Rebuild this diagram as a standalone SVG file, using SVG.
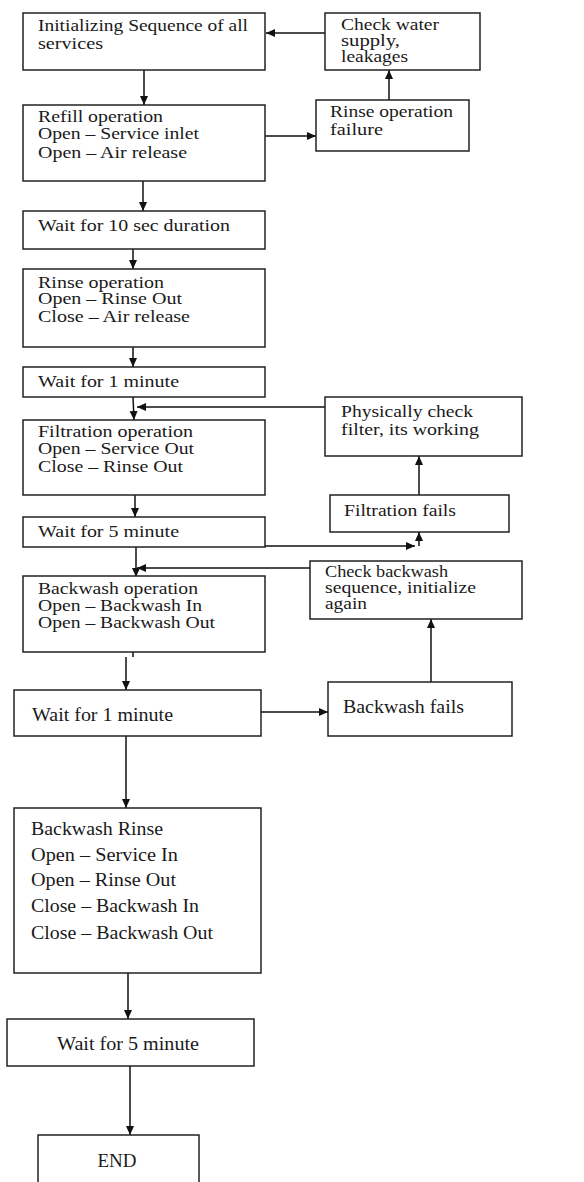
<svg xmlns="http://www.w3.org/2000/svg" width="584" height="1182" viewBox="0 0 584 1182">
<style>
.box{fill:#fff;stroke:#222;stroke-width:1.5}
.t{font-family:"Liberation Serif","Times New Roman",serif;font-size:16px;fill:#1a1a1a}
.b{font-family:"Liberation Serif","Times New Roman",serif;font-size:19px;fill:#1a1a1a}
.c{fill:none;stroke:#111;stroke-width:1.5}
</style>
<defs>
<marker id="ah" markerWidth="10" markerHeight="10" refX="9" refY="5" orient="auto" markerUnits="userSpaceOnUse">
<path d="M0,1 L9,5 L0,9 Z" fill="#111"/>
</marker>
</defs>
<rect x="0" y="0" width="584" height="1182" fill="#fff"/>

<g id="connectors">
<line class="c" x1="325" y1="33" x2="266" y2="33" marker-end="url(#ah)"/>
<line class="c" x1="144" y1="70" x2="144" y2="105" marker-end="url(#ah)"/>
<line class="c" x1="265" y1="136" x2="316" y2="136" marker-end="url(#ah)"/>
<line class="c" x1="389" y1="100" x2="389" y2="70" marker-end="url(#ah)"/>
<line class="c" x1="143" y1="181" x2="143" y2="211" marker-end="url(#ah)"/>
<line class="c" x1="133" y1="249" x2="133" y2="269" marker-end="url(#ah)"/>
<line class="c" x1="133" y1="347" x2="133" y2="367" marker-end="url(#ah)"/>
<line class="c" x1="133" y1="397" x2="134" y2="420" marker-end="url(#ah)"/>
<line class="c" x1="325" y1="407" x2="137" y2="407" marker-end="url(#ah)"/>
<line class="c" x1="419" y1="495" x2="419" y2="456" marker-end="url(#ah)"/>
<line class="c" x1="135" y1="495" x2="135" y2="517" marker-end="url(#ah)"/>
<line class="c" x1="265" y1="546" x2="415" y2="546" marker-end="url(#ah)"/>
<line class="c" x1="419" y1="546" x2="419" y2="532" marker-end="url(#ah)"/>
<line class="c" x1="136" y1="547" x2="136" y2="577" marker-end="url(#ah)"/>
<line class="c" x1="310" y1="568" x2="137" y2="568" marker-end="url(#ah)"/>
<line class="c" x1="133" y1="652" x2="133" y2="657"/>
<line class="c" x1="126" y1="657" x2="126" y2="690" marker-end="url(#ah)"/>
<line class="c" x1="261" y1="712" x2="328" y2="712" marker-end="url(#ah)"/>
<line class="c" x1="431" y1="682" x2="431" y2="619" marker-end="url(#ah)"/>
<line class="c" x1="126" y1="736" x2="126" y2="808" marker-end="url(#ah)"/>
<line class="c" x1="128" y1="973" x2="128" y2="1019" marker-end="url(#ah)"/>
<line class="c" x1="130" y1="1066" x2="130" y2="1135" marker-end="url(#ah)"/>
</g>

<g id="n-init">
<rect class="box" x="23" y="13" width="242" height="57"/>
<text class="t" x="38" y="31" textLength="210" lengthAdjust="spacingAndGlyphs">Initializing Sequence of all</text>
<text class="t" x="38" y="49" textLength="65" lengthAdjust="spacingAndGlyphs">services</text>
</g>
<g id="n-checkwater">
<rect class="box" x="325" y="13" width="155" height="57"/>
<text class="t" x="341" y="30" textLength="98" lengthAdjust="spacingAndGlyphs">Check water</text>
<text class="t" x="341" y="46" textLength="59" lengthAdjust="spacingAndGlyphs">supply,</text>
<text class="t" x="341" y="62" textLength="67" lengthAdjust="spacingAndGlyphs">leakages</text>
</g>
<g id="n-refill">
<rect class="box" x="23" y="105" width="242" height="76"/>
<text class="t" x="38" y="122" textLength="125" lengthAdjust="spacingAndGlyphs">Refill operation</text>
<text class="t" x="38" y="139" textLength="161" lengthAdjust="spacingAndGlyphs">Open – Service inlet</text>
<text class="t" x="38" y="158" textLength="149" lengthAdjust="spacingAndGlyphs">Open – Air release</text>
</g>
<g id="n-rinsefail">
<rect class="box" x="316" y="100" width="153" height="51"/>
<text class="t" x="330" y="117" textLength="123" lengthAdjust="spacingAndGlyphs">Rinse operation</text>
<text class="t" x="330" y="135" textLength="53" lengthAdjust="spacingAndGlyphs">failure</text>
</g>
<g id="n-wait10">
<rect class="box" x="23" y="211" width="242" height="38"/>
<text class="t" x="38" y="231" textLength="192" lengthAdjust="spacingAndGlyphs">Wait for 10 sec duration</text>
</g>
<g id="n-rinse">
<rect class="box" x="23" y="269" width="242" height="78"/>
<text class="t" x="38" y="288" textLength="126" lengthAdjust="spacingAndGlyphs">Rinse operation</text>
<text class="t" x="38" y="304" textLength="144" lengthAdjust="spacingAndGlyphs">Open – Rinse Out</text>
<text class="t" x="38" y="322" textLength="152" lengthAdjust="spacingAndGlyphs">Close – Air release</text>
</g>
<g id="n-wait1a">
<rect class="box" x="23" y="367" width="242" height="30"/>
<text class="t" x="38" y="387" textLength="141" lengthAdjust="spacingAndGlyphs">Wait for 1 minute</text>
</g>
<g id="n-filtration">
<rect class="box" x="23" y="420" width="242" height="75"/>
<text class="t" x="38" y="437" textLength="155" lengthAdjust="spacingAndGlyphs">Filtration operation</text>
<text class="t" x="38" y="454" textLength="156" lengthAdjust="spacingAndGlyphs">Open – Service Out</text>
<text class="t" x="38" y="472" textLength="145" lengthAdjust="spacingAndGlyphs">Close – Rinse Out</text>
</g>
<g id="n-physcheck">
<rect class="box" x="325" y="397" width="197" height="59"/>
<text class="t" x="341" y="417" textLength="132" lengthAdjust="spacingAndGlyphs">Physically check</text>
<text class="t" x="341" y="435" textLength="138" lengthAdjust="spacingAndGlyphs">filter, its working</text>
</g>
<g id="n-filtfail">
<rect class="box" x="330" y="495" width="179" height="37"/>
<text class="t" x="344" y="516" textLength="112" lengthAdjust="spacingAndGlyphs">Filtration fails</text>
</g>
<g id="n-wait5a">
<rect class="box" x="23" y="517" width="242" height="30"/>
<text class="t" x="38" y="537" textLength="141" lengthAdjust="spacingAndGlyphs">Wait for 5 minute</text>
</g>
<g id="n-checkbw">
<rect class="box" x="310" y="561" width="212" height="58"/>
<text class="t" x="325" y="577" textLength="123" lengthAdjust="spacingAndGlyphs">Check backwash</text>
<text class="t" x="325" y="593" textLength="151" lengthAdjust="spacingAndGlyphs">sequence, initialize</text>
<text class="t" x="325" y="609" textLength="42" lengthAdjust="spacingAndGlyphs">again</text>
</g>
<g id="n-backwash">
<rect class="box" x="23" y="576" width="242" height="76"/>
<text class="t" x="38" y="594" textLength="160" lengthAdjust="spacingAndGlyphs">Backwash operation</text>
<text class="t" x="38" y="611" textLength="164" lengthAdjust="spacingAndGlyphs">Open – Backwash In</text>
<text class="t" x="38" y="628" textLength="177" lengthAdjust="spacingAndGlyphs">Open – Backwash Out</text>
</g>
<g id="n-wait1b">
<rect class="box" x="14" y="690" width="247" height="46"/>
<text class="b" x="32" y="721" textLength="141" lengthAdjust="spacingAndGlyphs">Wait for 1 minute</text>
</g>
<g id="n-bwfail">
<rect class="box" x="328" y="682" width="184" height="54"/>
<text class="b" x="343" y="713" textLength="121" lengthAdjust="spacingAndGlyphs">Backwash fails</text>
</g>
<g id="n-bwrinse">
<rect class="box" x="14" y="808" width="247" height="165"/>
<text class="b" x="31" y="835" textLength="132" lengthAdjust="spacingAndGlyphs">Backwash Rinse</text>
<text class="b" x="31" y="861" textLength="147" lengthAdjust="spacingAndGlyphs">Open – Service In</text>
<text class="b" x="31" y="886" textLength="145" lengthAdjust="spacingAndGlyphs">Open – Rinse Out</text>
<text class="b" x="31" y="912" textLength="168" lengthAdjust="spacingAndGlyphs">Close – Backwash In</text>
<text class="b" x="31" y="939" textLength="182" lengthAdjust="spacingAndGlyphs">Close – Backwash Out</text>
</g>
<g id="n-wait5b">
<rect class="box" x="7" y="1019" width="247" height="47"/>
<text class="b" x="128" y="1050" text-anchor="middle" textLength="142" lengthAdjust="spacingAndGlyphs">Wait for 5 minute</text>
</g>
<g id="n-end">
<rect class="box" x="38" y="1135" width="161" height="60"/>
<text class="b" x="117" y="1167" text-anchor="middle">END</text>
</g>
</svg>
